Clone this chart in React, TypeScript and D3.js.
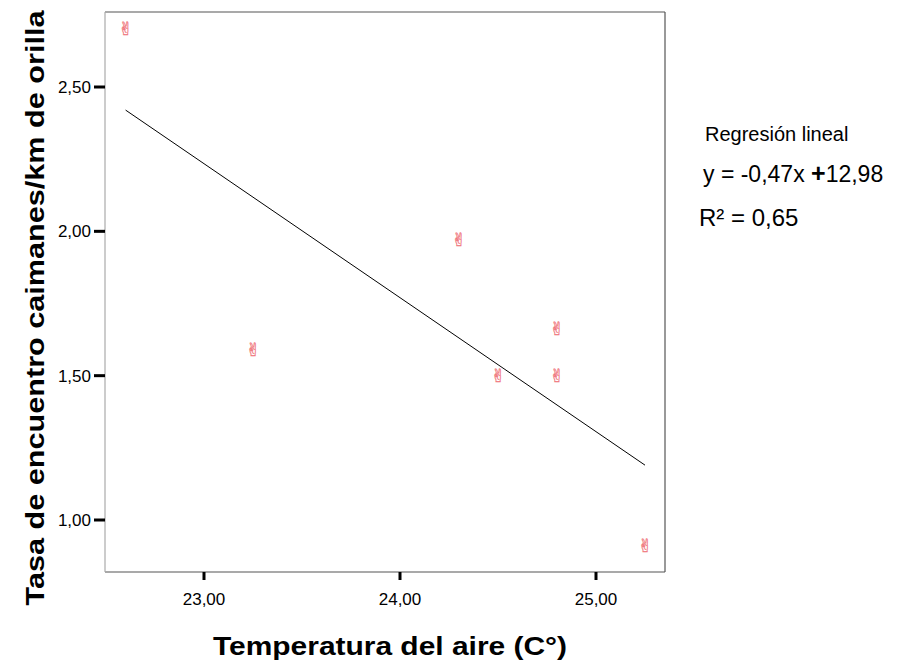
import React from "react";
import * as d3 from "d3";

const pointX = [22.6, 23.25, 24.3, 24.5, 24.8, 24.8, 25.25];
const pointY = [2.7, 1.59, 1.97, 1.5, 1.66, 1.5, 0.91];
const lineX = [22.6, 25.25];
const lineY = [2.42, 1.19];
const xTicks = [23, 24, 25];
const yTicks = [1.0, 1.5, 2.0, 2.5];
const xTitle = "Temperatura del aire (C°)";
const yTitle = "Tasa de encuentro caimanes/km de orilla";
const annTitle = "Regresión lineal";
const annEq1 = "y = -0,47x ";
const annEq2 = "+";
const annEq3 = "12,98";
const annR2 = "R² = 0,65";

const fmt = (v: number) => v.toFixed(2).replace(".", ",");

export default function App() {
  const left = 105, right = 665, top = 12, bottom = 572;
  const x = d3.scaleLinear().domain([23, 25]).range([204, 596]);
  const y = d3.scaleLinear().domain([1, 2.5]).range([520, 87]);
  const line = d3.line<number>().x((d, i) => x(lineX[i])).y((d, i) => y(lineY[i]));
  const font = "Liberation Sans, Arial, sans-serif";
  return (
    <svg width={902} height={669} style={{ position: "absolute", left: 0, top: 0, fontFamily: font }}>
      <rect x={0} y={0} width={902} height={669} fill="#fff" />
      {/* frame */}
      <line x1={left} y1={top} x2={right} y2={top} stroke="#555" strokeWidth={1.2} />
      <line x1={right} y1={top} x2={right} y2={bottom} stroke="#555" strokeWidth={1.2} />
      <line x1={left} y1={bottom} x2={right} y2={bottom} stroke="#555" strokeWidth={1.2} />
      <line x1={left} y1={top} x2={left} y2={bottom} stroke="#aaa" strokeWidth={1.2} />
      {/* x ticks */}
      {xTicks.map((t) => (
        <g key={"x" + t}>
          <line x1={x(t)} x2={x(t)} y1={bottom} y2={bottom + 8} stroke="#000" strokeWidth={3} />
          <text x={x(t)} y={605} textAnchor="middle" fontSize={17} fill="#000">{fmt(t)}</text>
        </g>
      ))}
      {/* y ticks */}
      {yTicks.map((t) => (
        <g key={"y" + t}>
          <line x1={left - 11} x2={left} y1={y(t)} y2={y(t)} stroke="#000" strokeWidth={3} />
          <text x={91} y={y(t) + 6} textAnchor="end" fontSize={17} fill="#000">{fmt(t)}</text>
        </g>
      ))}
      {/* regression line */}
      <path d={line(lineX) || ""} fill="none" stroke="#000" strokeWidth={1} />
      {/* points */}
      {pointX.map((px, i) => (
        <text key={"p" + i} x={x(px)} y={y(pointY[i]) + 6} textAnchor="middle" fontSize={18}
          fontFamily="DejaVu Sans" fill="#f9b0b0" stroke="#ee7078" strokeWidth={0.35}>✌</text>
      ))}
      {/* annotation */}
      <text x={705} y={141} fontSize={20} fill="#000">{annTitle}</text>
      <text x={703} y={182} fontSize={23} fill="#000">
        {annEq1}
        <tspan fontWeight="bold" fontSize={25}>{annEq2}</tspan>
        {annEq3}
      </text>
      <text x={699} y={226} fontSize={24} fill="#000">{annR2}</text>
      {/* axis titles */}
      <text x={390} y={655} textAnchor="middle" fontSize={25} fontWeight="bold" fill="#000"
        textLength={354} lengthAdjust="spacingAndGlyphs">{xTitle}</text>
      <text transform="translate(44,308) rotate(-90)" textAnchor="middle" fontSize={25} fontWeight="bold" fill="#000"
        textLength={595} lengthAdjust="spacingAndGlyphs">{yTitle}</text>
    </svg>
  );
}
